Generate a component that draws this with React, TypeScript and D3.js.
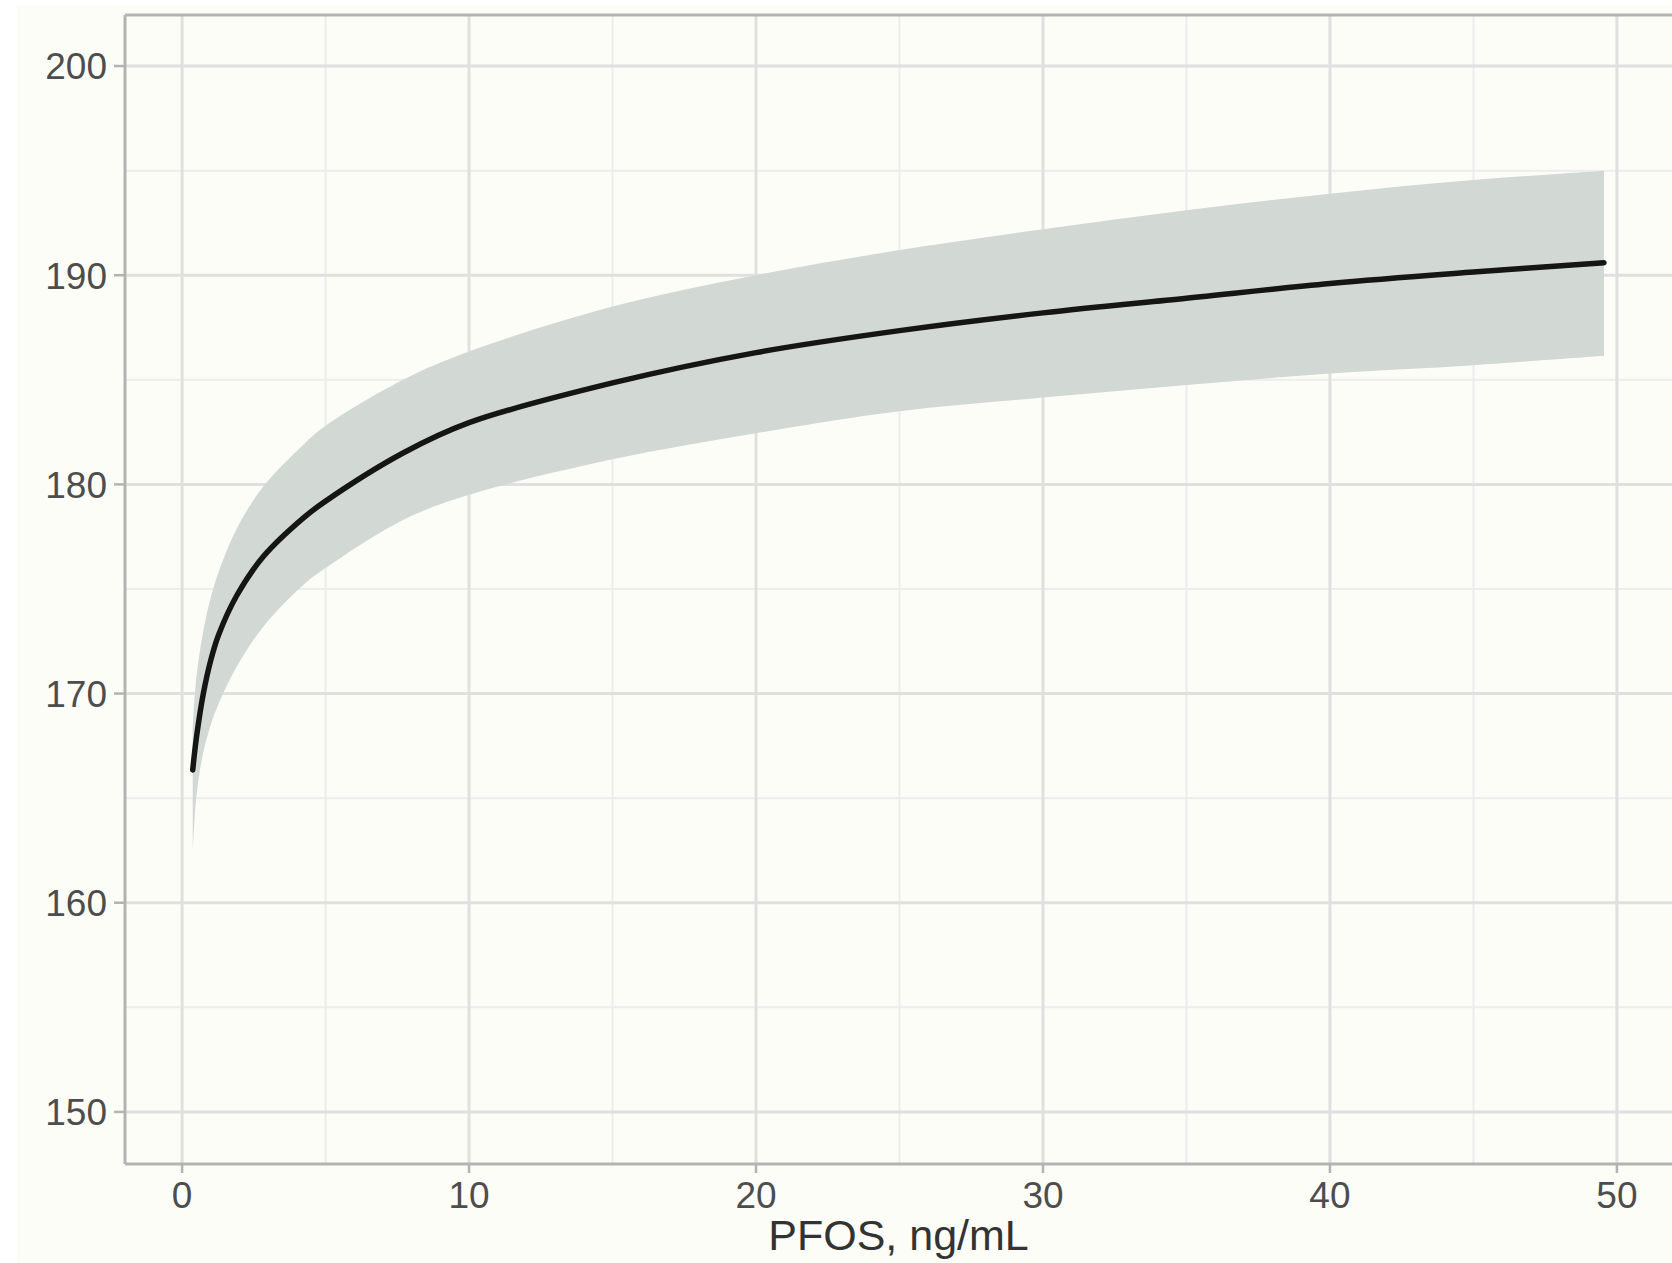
import * as d3 from "d3";

// PFOS concentration (ng/mL) where the curve was read
const pfos = [0.37, 0.5, 0.74, 1.0, 1.27, 1.91, 2.83, 4.23, 5, 7.7, 10, 15, 20, 25, 30, 35, 40, 45, 49.55];
// fitted value
const fit = [166.35, 167.9, 170.0, 171.6, 172.8, 174.7, 176.55, 178.4, 179.2, 181.5, 182.95, 184.85, 186.3, 187.35, 188.2, 188.9, 189.6, 190.15, 190.6];
// confidence band
const upper = [168.3, 170.8, 173.0, 174.6, 175.8, 177.9, 179.9, 181.9, 182.8, 185.0, 186.35, 188.5, 190.0, 191.2, 192.2, 193.1, 193.9, 194.55, 195.0];
const lower = [162.4, 165.1, 167.2, 168.5, 169.5, 171.3, 173.2, 175.2, 176.0, 178.3, 179.5, 181.2, 182.45, 183.5, 184.15, 184.75, 185.3, 185.7, 186.15];

const xMajor = [0, 10, 20, 30, 40, 50];
const xMinor = [5, 15, 25, 35, 45];
const yMajor = [150, 160, 170, 180, 190, 200];
const yMinor = [155, 165, 175, 185, 195];

const xTitle = "PFOS, ng/mL";

export default function App() {
  const width = 1672;
  const height = 1263;

  const panelLeft = 125;
  const panelRight = 1672;
  const panelTop = 15;
  const panelBottom = 1164;

  const x = d3.scaleLinear().domain([-1.99, 51.92]).range([panelLeft, panelRight]);
  const y = d3.scaleLinear().domain([147.51, 202.44]).range([panelBottom, panelTop]);

  const rows = pfos.map((p, i) => ({ p, fit: fit[i], lo: lower[i], hi: upper[i] }));

  const band = d3.area<any>()
    .x(d => x(d.p))
    .y0(d => y(d.lo))
    .y1(d => y(d.hi))
    .curve(d3.curveCatmullRom.alpha(0.5));

  const line = d3.line<any>()
    .x(d => x(d.p))
    .y(d => y(d.fit))
    .curve(d3.curveCatmullRom.alpha(0.5));

  const font = "'Liberation Sans', Arial, sans-serif";
  const textCol = "#4d4d4d";
  const axisCol = "#b3b3b3";

  return (
    <svg
      width={width}
      height={height}
      viewBox={`0 0 ${width} ${height}`}
      style={{ position: "absolute", left: 0, top: 0, background: "#ffffff" }}
    >
      <rect x={17} y={5} width={width - 17} height={height - 5} fill="#fcfdf7" />

      {/* minor grid */}
      <g stroke="#ededed" strokeWidth={2}>
        {xMinor.map(v => (
          <line key={"xm" + v} x1={x(v)} x2={x(v)} y1={panelTop} y2={panelBottom} />
        ))}
        {yMinor.map(v => (
          <line key={"ym" + v} x1={panelLeft} x2={panelRight} y1={y(v)} y2={y(v)} />
        ))}
      </g>
      {/* major grid */}
      <g stroke="#e0e0e0" strokeWidth={3}>
        {xMajor.map(v => (
          <line key={"xM" + v} x1={x(v)} x2={x(v)} y1={panelTop} y2={panelBottom} />
        ))}
        {yMajor.map(v => (
          <line key={"yM" + v} x1={panelLeft} x2={panelRight} y1={y(v)} y2={y(v)} />
        ))}
      </g>

      <path d={band(rows) ?? ""} fill="#d2d8d4" />
      <path d={line(rows) ?? ""} fill="none" stroke="#151515" strokeWidth={5.5} strokeLinecap="round" />

      {/* panel border */}
      <g stroke={axisCol} strokeWidth={3} fill="none">
        <line x1={panelLeft} x2={panelRight} y1={panelTop} y2={panelTop} />
        <line x1={panelLeft} x2={panelLeft} y1={panelTop} y2={panelBottom} />
        <line x1={panelLeft} x2={panelRight} y1={panelBottom} y2={panelBottom} />
      </g>

      {/* y axis */}
      <g fontFamily={font} fontSize={37} fill={textCol}>
        {yMajor.map(v => (
          <g key={"yt" + v}>
            <line x1={panelLeft - 11} x2={panelLeft} y1={y(v)} y2={y(v)} stroke={axisCol} strokeWidth={2.5} />
            <text x={panelLeft - 18} y={y(v)} dy="0.36em" textAnchor="end">{v}</text>
          </g>
        ))}
      </g>

      {/* x axis */}
      <g fontFamily={font} fontSize={37} fill={textCol}>
        {xMajor.map(v => (
          <g key={"xt" + v}>
            <line x1={x(v)} x2={x(v)} y1={panelBottom} y2={panelBottom + 9} stroke={axisCol} strokeWidth={2.5} />
            <text x={x(v)} y={panelBottom + 44} textAnchor="middle">{v}</text>
          </g>
        ))}
      </g>

      <text
        x={(panelLeft + panelRight) / 2}
        y={1250}
        textAnchor="middle"
        fontFamily={font}
        fontSize={43}
        fill="#333333"
      >
        {xTitle}
      </text>
    </svg>
  );
}
